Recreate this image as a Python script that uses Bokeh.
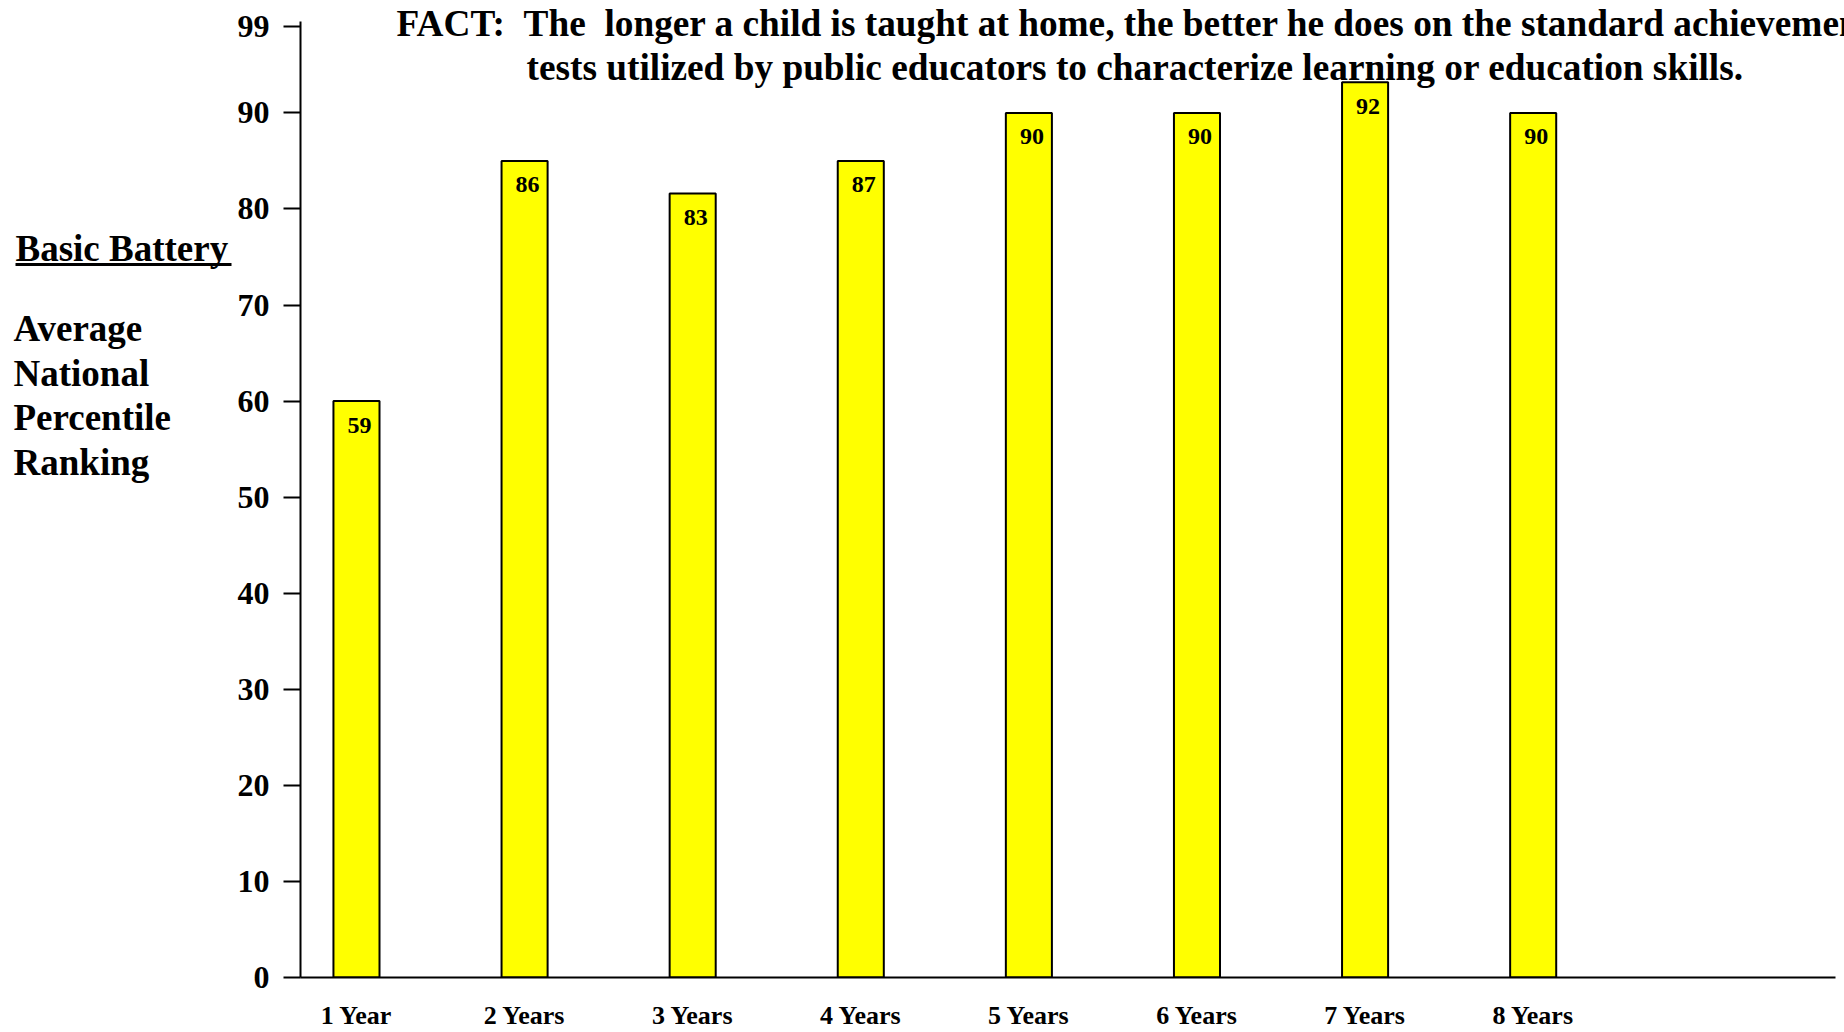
from bokeh.plotting import figure
from bokeh.layouts import row
from bokeh.models import Range1d, FixedTicker, Label, BoxAnnotation, ColumnDataSource
from bokeh.core.properties import value
from bokeh.embed import file_html
from bokeh.resources import INLINE

# ---- data ----
years = [1, 2, 3, 4, 5, 6, 7, 8]
year_labels = ["1 Year", "2 Years", "3 Years", "4 Years",
               "5 Years", "6 Years", "7 Years", "8 Years"]
bar_heights = [60, 85, 81.6, 85, 90, 90, 93.2, 90]      # drawn bar heights
value_labels = ["59", "86", "83", "87", "90", "90", "92", "90"]  # printed values
y_ticks = [0, 10, 20, 30, 40, 50, 60, 70, 80, 90, 99]

title_1 = "FACT:\u00a0\u00a0The\u00a0\u00a0longer a child is taught at home, the better he does on the standard achievement"
title_2 = "tests utilized by public educators to characterize learning or education skills."
side_title = "Basic Battery"
side_lines = ["Average", "National", "Percentile", "Ranking"]

FONT = "Liberation Serif"
H = 1032
LW = 234                      # width of the left text panel
MW = 1844 - LW                # width of the chart
LEFT, RIGHT, TOP, BOTTOM = 66, 0, 0, 55
FB = H - BOTTOM               # frame bottom (px), shared by both panels
FL = LW + LEFT                # frame left on the page (px)

# ---------- left text panel ----------
side = figure(width=LW, height=H, output_backend="svg", toolbar_location=None,
              x_axis_type=None, y_axis_type=None,
              x_range=Range1d(0, 1), y_range=Range1d(0, 1),
              min_border=0, min_border_left=0, min_border_right=0,
              min_border_top=0, min_border_bottom=0)
side.outline_line_color = None
side.xgrid.visible = False
side.ygrid.visible = False

def side_lab(cx, cy, text):
    side.add_layout(Label(x=cx, y=FB - cy, x_units="screen", y_units="screen",
                          text=text, text_font=FONT, text_font_style="bold",
                          text_font_size="37px", text_align="left",
                          text_baseline="middle", text_color="black"))

side_lab(15, 248, side_title)
for i, t in enumerate(side_lines):
    side_lab(13, 328 + i * 44.7, t)
side.add_layout(BoxAnnotation(left=15, right=231, top=FB - 262.5, bottom=FB - 265.5,
                              left_units="screen", right_units="screen",
                              top_units="screen", bottom_units="screen",
                              fill_color="black", fill_alpha=1, line_color=None))

# ---------- main chart ----------
p = figure(width=MW, height=H, output_backend="svg", toolbar_location=None,
           x_range=Range1d(0.667, 9.852), y_range=Range1d(0, 101.7),
           min_border_left=LEFT, min_border_right=RIGHT, min_border_top=TOP,
           min_border_bottom=BOTTOM, background_fill_color="white",
           border_fill_color="white")
p.outline_line_color = None
p.xgrid.visible = False
p.ygrid.visible = False

# y axis
p.yaxis.ticker = FixedTicker(ticks=y_ticks)
p.yaxis.bounds = (0, 99.5)
p.yaxis.major_tick_out = 17
p.yaxis.major_tick_in = 0
p.yaxis.minor_tick_line_color = None
p.yaxis.axis_line_width = 2
p.yaxis.major_tick_line_width = 2
p.yaxis.major_label_text_font = FONT
p.yaxis.major_label_text_font_style = "bold"
p.yaxis.major_label_text_font_size = "32px"
p.yaxis.major_label_text_color = "black"
p.yaxis.major_label_standoff = 14

# x axis
p.xaxis.ticker = FixedTicker(ticks=years)
p.xaxis.bounds = (0.667, 9.798)
p.xaxis.major_label_overrides = {y: l for y, l in zip(years, year_labels)}
p.xaxis.major_tick_line_color = None
p.xaxis.major_tick_out = 0
p.xaxis.major_tick_in = 0
p.xaxis.minor_tick_line_color = None
p.xaxis.axis_line_width = 2
p.xaxis.major_label_text_font = FONT
p.xaxis.major_label_text_font_style = "bold"
p.xaxis.major_label_text_font_size = "26px"
p.xaxis.major_label_text_color = "black"
p.xaxis.major_label_standoff = 23

src = ColumnDataSource(dict(x=years, h=bar_heights, lbl=value_labels))
p.vbar(x="x", top="h", bottom=0, width=0.274, source=src,
       fill_color="#FFFF00", line_color="black", line_width=2)
p.text(x="x", y="h", text="lbl", source=src,
       text_font=value(FONT), text_font_style="bold", text_font_size="24px",
       text_align="center", text_baseline="middle", x_offset=3, y_offset=24,
       text_color="black")

# annotation screen units are measured from the frame's bottom-left corner
def lab(cx, cy, text):
    p.add_layout(Label(x=cx - FL, y=FB - cy, x_units="screen", y_units="screen",
                       text=text, text_font=FONT, text_font_style="bold",
                       text_font_size="37.3px", text_align="left",
                       text_baseline="middle", text_color="black"))

lab(396, 23, title_1)
lab(526, 67, title_2)

layout = row(side, p, spacing=0)
open("out.html", "w").write(file_html(layout, INLINE))
